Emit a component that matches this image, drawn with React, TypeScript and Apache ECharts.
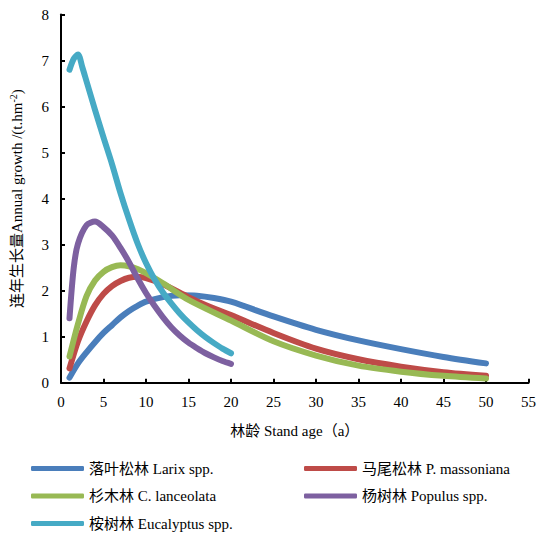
import React, { useEffect, useRef } from "react";
import * as echarts from "echarts";

const seriesNames = [
  "落叶松林 Larix spp.",
  "马尾松林 P. massoniana",
  "杉木林 C. lanceolata",
  "杨树林 Populus spp.",
  "桉树林 Eucalyptus spp.",
];
const colors = ["#4A7EBB", "#BE4B48", "#98B954", "#7D60A0", "#46AAC5"];

const larixAges = [1, 2, 3, 4, 5, 6, 7, 8, 9, 10, 12, 14, 16, 18, 20, 25, 30, 35, 40, 45, 50];
const larixVals = [0.11, 0.42, 0.66, 0.88, 1.08, 1.25, 1.42, 1.56, 1.67, 1.76, 1.86, 1.9, 1.89, 1.84, 1.76, 1.44, 1.15, 0.92, 0.73, 0.56, 0.42];

const massonianaAges = [1, 2, 3, 4, 5, 6, 7, 8, 9, 10, 12, 15, 17, 20, 25, 30, 35, 40, 45, 50];
const massonianaVals = [0.31, 0.9, 1.33, 1.68, 1.93, 2.1, 2.21, 2.28, 2.3, 2.27, 2.14, 1.86, 1.69, 1.47, 1.08, 0.74, 0.51, 0.35, 0.23, 0.15];

const lanceolataAges = [1, 2, 3, 4, 5, 6, 7, 8, 9, 10, 12, 15, 20, 25, 30, 35, 40, 45, 50];
const lanceolataVals = [0.57, 1.28, 1.88, 2.22, 2.41, 2.51, 2.55, 2.53, 2.47, 2.38, 2.16, 1.8, 1.35, 0.9, 0.59, 0.37, 0.24, 0.15, 0.09];

const populusAges = [1, 1.5, 2, 3, 4, 5, 6, 7, 8, 9, 10, 11, 12, 13, 14, 15, 16, 17, 18, 19, 20];
const populusVals = [1.4, 2.5, 3.02, 3.42, 3.5, 3.38, 3.2, 2.93, 2.62, 2.27, 1.95, 1.67, 1.42, 1.2, 1.02, 0.87, 0.75, 0.64, 0.55, 0.47, 0.41];

const eucalyptusAges = [1, 1.5, 2, 2.5, 3, 4, 5, 6, 7, 8, 9, 10, 11, 12, 13, 14, 15, 16, 17, 18, 19, 20];
const eucalyptusVals = [6.8, 7.04, 7.13, 6.86, 6.55, 5.93, 5.33, 4.75, 4.12, 3.55, 3.03, 2.6, 2.25, 1.96, 1.72, 1.5, 1.31, 1.14, 0.99, 0.86, 0.74, 0.64];

const xTicks = { min: 0, max: 55, interval: 5 };
const yTicks = { min: 0, max: 8, interval: 1 };

const FONT = "'Liberation Serif', 'Times New Roman', 'Noto Sans CJK SC', serif";

function pairs(xs: number[], ys: number[]) {
  return xs.map((x, i) => [x, ys[i]]);
}

export default function App() {
  const ref = useRef<HTMLDivElement>(null);
  useEffect(() => {
    if (!ref.current) return;
    const chart = echarts.init(ref.current, null, { renderer: "svg" });
    const dataSets = [
      pairs(larixAges, larixVals),
      pairs(massonianaAges, massonianaVals),
      pairs(lanceolataAges, lanceolataVals),
      pairs(populusAges, populusVals),
      pairs(eucalyptusAges, eucalyptusVals),
    ];
    const axisCommon = {
      axisLine: { show: true, lineStyle: { color: "#000", width: 2 } },
      axisTick: { show: true, inside: true, length: 4, lineStyle: { color: "#000", width: 2 } },
      splitLine: { show: false },
      axisLabel: { color: "#000", fontSize: 15, fontFamily: FONT, margin: 12 },
    };
    const legendCommon = {
      orient: "vertical" as const,
      top: 461,
      padding: 0,
      itemGap: 12.5,
      itemWidth: 53,
      itemHeight: 5,
      icon: "roundRect",
      textStyle: { fontSize: 15, fontFamily: FONT, color: "#000", lineHeight: 15 },
    };
    chart.setOption({
      animation: false,
      color: colors,
      grid: { left: 60.7, right: 9.7, top: 14.5, bottom: 153.3, containLabel: false },
      xAxis: {
        type: "value",
        ...xTicks,
        ...axisCommon,
        name: "林龄 Stand age（a）",
        nameLocation: "middle",
        nameGap: 41,
        nameTextStyle: { fontSize: 15, fontFamily: FONT, color: "#000" },
      },
      yAxis: {
        type: "value",
        ...yTicks,
        ...axisCommon,
        name: "连年生长量Annual growth /(t.hm{sup|-2})",
        nameLocation: "middle",
        nameRotate: 90,
        nameGap: 35,
        nameTextStyle: {
          fontSize: 15,
          fontFamily: FONT,
          color: "#000",
          lineHeight: 18,
          rich: {
            sup: { fontSize: 10, fontFamily: FONT, color: "#000", lineHeight: 10, verticalAlign: "top" },
          },
        },
      },
      legend: [
        { ...legendCommon, left: 31, data: [seriesNames[0], seriesNames[2], seriesNames[4]] },
        { ...legendCommon, left: 304, data: [seriesNames[1], seriesNames[3]] },
      ],
      series: dataSets.map((d, i) => ({
        name: seriesNames[i],
        type: "line",
        data: d,
        smooth: 0.3,
        showSymbol: false,
        symbol: "none",
        color: colors[i],
        lineStyle: { width: 6, color: colors[i], cap: "round", join: "round" },
        itemStyle: { color: colors[i] },
      })),
    });
    return () => chart.dispose();
  }, []);
  return (
    <div
      ref={ref}
      style={{ position: "fixed", left: 0, top: 0, width: 539, height: 536, background: "#fff" }}
    />
  );
}
